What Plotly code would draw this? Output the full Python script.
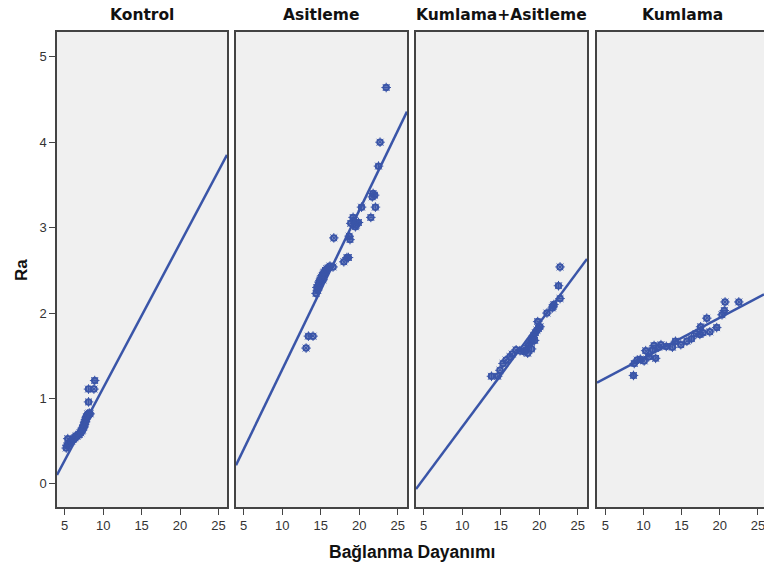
import plotly.graph_objects as go

groups = ["Kontrol", "Asitleme", "Kumlama+Asitleme", "Kumlama"]

kontrol_x = [5.2, 5.3, 5.4, 5.5, 5.6, 5.8, 5.9, 6.0, 6.1, 6.2, 6.3, 6.4, 6.5, 6.6, 6.7, 6.8, 6.9, 7.0,
             7.1, 7.2, 7.3, 7.3, 7.4, 7.5, 7.5, 7.6, 7.6, 7.7, 7.7, 7.8, 7.8, 7.9, 8.0, 8.0, 8.1, 8.2,
             8.3, 8.1, 8.1, 8.8, 8.9]
kontrol_ra = [0.42, 0.45, 0.53, 0.47, 0.48, 0.50, 0.50, 0.52, 0.52, 0.53, 0.54, 0.55, 0.56, 0.56, 0.57,
              0.58, 0.58, 0.60, 0.60, 0.62, 0.63, 0.65, 0.66, 0.67, 0.69, 0.70, 0.72, 0.73, 0.75, 0.76,
              0.78, 0.79, 0.80, 0.82, 0.81, 0.83, 0.82, 0.96, 1.11, 1.11, 1.21]

asit_x = [23.5, 22.7, 22.5, 21.7, 21.8, 22.0, 22.1, 21.5, 20.3, 19.2, 18.9, 19.3, 19.6, 19.9, 19.5,
          18.7, 18.8, 16.7, 18.4, 18.6, 18.0, 16.6, 14.5, 14.7, 14.8, 14.9, 15.0, 15.1, 15.2, 15.3,
          15.4, 15.5, 15.6, 15.8, 16.0, 16.2, 14.6, 14.9, 15.3, 14.4, 13.4, 14.0, 13.1]
asit_ra = [4.64, 4.00, 3.72, 3.36, 3.40, 3.38, 3.24, 3.12, 3.24, 3.12, 3.05, 3.08, 3.03, 3.06, 3.01,
           2.90, 2.86, 2.88, 2.65, 2.65, 2.60, 2.54, 2.30, 2.33, 2.36, 2.38, 2.40, 2.42, 2.44, 2.45,
           2.47, 2.48, 2.50, 2.52, 2.53, 2.55, 2.27, 2.35, 2.39, 2.23, 1.73, 1.73, 1.59]

kumasit_x = [22.7, 22.5, 22.7, 21.7, 21.9, 21.8, 21.0, 19.8, 18.3, 18.6, 18.9, 19.1, 19.3, 19.5, 19.7,
             19.9, 20.1, 18.5, 19.0, 19.4, 18.0, 17.5, 17.0, 16.5, 16.2, 15.7, 15.3, 14.9, 14.6, 13.8]
kumasit_ra = [2.54, 2.32, 2.17, 2.06, 2.10, 2.08, 2.00, 1.90, 1.57, 1.62, 1.66, 1.70, 1.74, 1.77, 1.80,
              1.82, 1.84, 1.53, 1.58, 1.68, 1.55, 1.56, 1.57, 1.52, 1.49, 1.45, 1.41, 1.33, 1.26, 1.26]

kum_x = [8.7, 20.7, 22.5, 20.6, 20.3, 18.3, 19.6, 18.7, 17.5, 16.9, 17.4, 17.8, 15.7, 14.9, 13.8, 14.2,
         12.3, 11.4, 10.3, 11.2, 11.6, 9.2, 9.6, 10.1, 8.8, 10.7, 12.0, 13.0, 16.3]
kum_ra = [1.27, 2.13, 2.13, 2.03, 1.98, 1.94, 1.83, 1.78, 1.84, 1.76, 1.75, 1.77, 1.67, 1.63, 1.60, 1.67,
          1.63, 1.62, 1.56, 1.57, 1.47, 1.45, 1.46, 1.44, 1.41, 1.49, 1.60, 1.61, 1.70]

# fitted regression coefficients (intercept, slope) per group
fit_intercept = [-0.573, -0.526, -0.545, 1.00]
fit_slope = [0.1695, 0.1864, 0.1213, 0.0473]

xs = [kontrol_x, asit_x, kumasit_x, kum_x]
ys = [kontrol_ra, asit_ra, kumasit_ra, kum_ra]

x_ticks = [5, 10, 15, 20, 25]
y_ticks = [0, 1, 2, 3, 4, 5]

W, H = 764, 566
panel_px = [(57, 227), (236, 407), (416, 587), (597, 764)]
title_px = [142, 321, 501, 682]
x_ranges = [[4.0, 26.1], [4.0, 26.2], [4.0, 26.2], [3.92, 25.8]]
y_range = [-0.27, 5.29]
y_dom = [1 - 507 / H, 1 - 32 / H]

blue = "#3a55a8"
fig = go.Figure()

for i in range(4):
    sfx = "" if i == 0 else str(i + 1)
    xa, ya = "x" + sfx, "y" + sfx
    fig.add_trace(go.Scatter(
        x=xs[i], y=ys[i], mode="markers", xaxis=xa, yaxis=ya,
        marker=dict(symbol="asterisk-open", size=8, color=blue, line=dict(width=1, color=blue)),
        showlegend=False, hoverinfo="skip"))
    fig.add_trace(go.Scatter(
        x=xs[i], y=ys[i], mode="markers", xaxis=xa, yaxis=ya,
        marker=dict(symbol="circle-open", size=5.5, color=blue, line=dict(width=2, color=blue)),
        showlegend=False, hoverinfo="x+y"))
    xr = x_ranges[i]
    fig.add_trace(go.Scatter(
        x=xr, y=[fit_intercept[i] + fit_slope[i] * v for v in xr], mode="lines",
        xaxis=xa, yaxis=ya, line=dict(color=blue, width=2.5),
        showlegend=False, hoverinfo="skip"))

    l, r = panel_px[i]
    fig.layout["xaxis" + sfx] = dict(
        domain=[l / W, r / W], range=xr, anchor=ya, tickvals=x_ticks,
        ticks="outside", ticklen=6, tickwidth=1.2, tickcolor="#444",
        ticklabeloverflow="allow",
        showgrid=False, zeroline=False, showline=True, mirror=True,
        linecolor="#444", linewidth=1.5,
        tickfont=dict(family="Liberation Sans, Arial", size=13, color="#333"))
    fig.layout["yaxis" + sfx] = dict(
        domain=y_dom, range=y_range, anchor=xa, tickvals=y_ticks,
        ticks="outside" if i == 0 else "", ticklen=6, tickwidth=1.2, tickcolor="#444",
        showticklabels=(i == 0),
        showgrid=False, zeroline=False, showline=True, mirror=(i < 3),
        linecolor="#444", linewidth=1.5,
        tickfont=dict(family="Liberation Sans, Arial", size=13, color="#333"))
    fig.add_annotation(
        text="<b>%s</b>" % groups[i], x=title_px[i] / W, y=1 - 15 / H,
        xref="paper", yref="paper", showarrow=False, xanchor="center", yanchor="middle",
        font=dict(family="DejaVu Sans", size=15.5, color="#111"))

fig.add_annotation(text="<b>Ra</b>", x=21 / W, y=1 - 270 / H, xref="paper", yref="paper",
                   showarrow=False, textangle=-90, xanchor="center", yanchor="middle",
                   font=dict(family="Liberation Sans, Arial", size=17, color="#111"))
fig.add_annotation(text="<b>Bağlanma Dayanımı</b>", x=412 / W, y=1 - 552 / H, xref="paper",
                   yref="paper", showarrow=False, xanchor="center", yanchor="middle",
                   font=dict(family="Liberation Sans, Arial", size=17.5, color="#111"))

fig.update_layout(width=W, height=H, margin=dict(l=0, r=0, t=0, b=0),
                  paper_bgcolor="white", plot_bgcolor="#f0f0f0")

fig.write_html("out.html", config={"displayModeBar": False},
               post_script="document.body.style.margin='0';")
